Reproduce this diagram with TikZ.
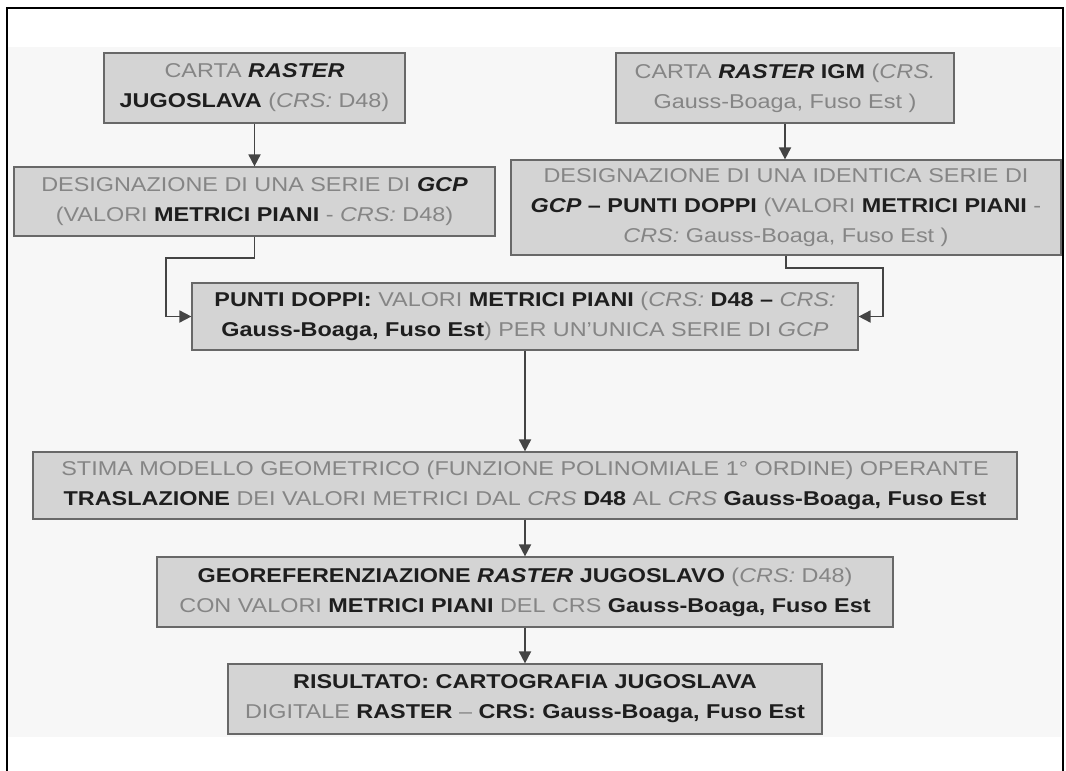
\documentclass[tikz,border=0pt]{standalone}
\usepackage{fontspec}
\setmainfont{Liberation Sans}[FakeStretch=1.17]
\usetikzlibrary{arrows.meta}
\definecolor{bgcol}{HTML}{F7F7F7}
\definecolor{boxfill}{HTML}{D4D4D4}
\definecolor{boxline}{HTML}{686868}
\definecolor{txtgray}{HTML}{858585}
\definecolor{txtdark}{HTML}{1E1E1E}
\definecolor{arrcol}{HTML}{444444}
\newcommand{\bk}[1]{\textcolor{txtdark}{\textbf{#1}}}
\newcommand{\bki}[1]{\textcolor{txtdark}{\textbf{\textit{#1}}}}
\begin{document}
\begin{tikzpicture}[
            x=1pt, y=1pt,
            flowbox/.style={draw=boxline, fill=boxfill, line width=1.2pt, align=center,
                inner sep=0pt, text=txtgray, font=\fontsize{20}{30}\selectfont},
            flowarr/.style={draw=arrcol, line width=1.8pt, -{Triangle[length=12pt,width=12pt]}}
        ]
            \useasboundingbox (0,0) rectangle (1066,-771);
            \fill[bgcol] (8,-47) rectangle (1061,-737);
            \draw[line width=1.6pt] (7,-771) -- (7,-8) -- (1063,-8) -- (1063,-771);

            % carte raster di partenza
            \node[flowbox, minimum width=301, minimum height=70] (cartaJ) at (254.5,-88)
                {CARTA \bki{RASTER}\\ \bk{JUGOSLAVA} (\textit{CRS:} D48)};
            \node[flowbox, minimum width=338, minimum height=70] (cartaI) at (785,-88)
                {CARTA \bki{RASTER} \bk{IGM} (\textit{CRS.}\\ Gauss-Boaga, Fuso Est )};

            % serie di GCP
            \node[flowbox, minimum width=481, minimum height=69] (gcpJ) at (254.5,-201.5)
                {DESIGNAZIONE DI UNA SERIE DI \bki{GCP}\\ (VALORI \bk{METRICI PIANI} - \textit{CRS:} D48)};
            \node[flowbox, minimum width=550, minimum height=95] (gcpI) at (786,-207.5)
                {DESIGNAZIONE DI UNA IDENTICA SERIE DI\\
                 \bki{GCP} \bk{– PUNTI DOPPI} (VALORI \bk{METRICI PIANI} -\\
                 \textit{CRS:} Gauss-Boaga, Fuso Est )};

            \node[flowbox, minimum width=666, minimum height=67] (doppi) at (525,-316.5)
                {\bk{PUNTI DOPPI:} VALORI \bk{METRICI PIANI} (\textit{CRS:} \bk{D48 –} \textit{CRS:}\\
                 \bk{Gauss-Boaga, Fuso Est}) PER UN'UNICA SERIE DI \textit{GCP}};

            \node[flowbox, minimum width=984, minimum height=67] (stima) at (525,-485.5)
                {STIMA MODELLO GEOMETRICO (FUNZIONE POLINOMIALE 1° ORDINE) OPERANTE\\
                 \bk{TRASLAZIONE} DEI VALORI METRICI DAL \textit{CRS} \bk{D48} AL \textit{CRS} \bk{Gauss-Boaga, Fuso Est}};

            \node[flowbox, minimum width=736, minimum height=70] (georef) at (525,-592)
                {\bk{GEOREFERENZIAZIONE} \bki{RASTER} \bk{JUGOSLAVO} (\textit{CRS:} D48)\\
                 CON VALORI \bk{METRICI PIANI} DEL CRS \bk{Gauss-Boaga, Fuso Est}};

            \node[flowbox, minimum width=594, minimum height=70] (result) at (525,-699)
                {\bk{RISULTATO: CARTOGRAFIA JUGOSLAVA}\\
                 DIGITALE \bk{RASTER} – \bk{CRS: Gauss-Boaga, Fuso Est}};

            % collegamenti
            \coordinate (elbowL) at (166,-258);
            \coordinate (elbowR) at (883,-268);
            \draw[flowarr] (cartaJ) -- (gcpJ);
            \draw[flowarr] (cartaI.south) -- (cartaI.south |- gcpI.north);
            \draw[flowarr] (gcpJ.south) |- (elbowL) |- (doppi.west);
            \draw[flowarr] (gcpI.south) |- (elbowR) |- (doppi.east);
            \draw[flowarr] (doppi) -- (stima);
            \draw[flowarr] (stima) -- (georef);
            \draw[flowarr] (georef) -- (result);

        \end{tikzpicture}
\end{document}
